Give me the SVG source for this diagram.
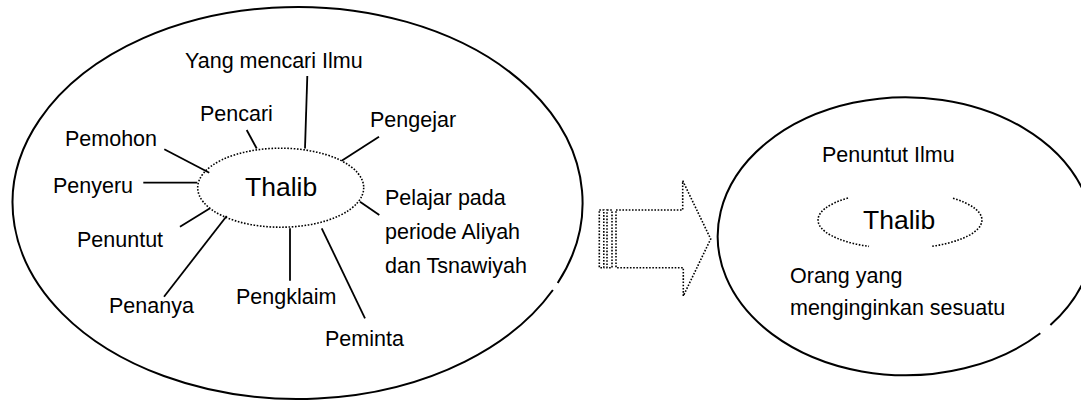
<svg xmlns="http://www.w3.org/2000/svg" width="1081" height="400" viewBox="0 0 1081 400">
<style>
.lbl{font-family:"Liberation Sans",Arial,sans-serif;font-size:21.5px;fill:#000}
.big{font-family:"Liberation Sans",Arial,sans-serif;font-size:26.5px;fill:#000}
.solid{fill:none;stroke:#000;stroke-width:2}
.ln{fill:none;stroke:#000;stroke-width:1.8}
.dot{fill:none;stroke:#000;stroke-width:1.6;stroke-dasharray:1.6 1.6}
</style>
<rect width="1081" height="400" fill="#fff"/>
<g id="outer-left">
<path class="solid" d="M552.9 290 A285 196 0 1 1 557.7 283"/>
</g>
<g id="connectors">
<line class="ln" x1="307.3" y1="76" x2="305" y2="148.5"/>
<line class="ln" x1="246.7" y1="130" x2="256.7" y2="148.5"/>
<line class="ln" x1="164.3" y1="149.3" x2="209.3" y2="172.7"/>
<line class="ln" x1="143.3" y1="182.7" x2="197.3" y2="182.7"/>
<line class="ln" x1="379" y1="136.7" x2="341.7" y2="160.7"/>
<line class="ln" x1="180" y1="226.7" x2="210" y2="208.3"/>
<line class="ln" x1="164" y1="296.7" x2="226.7" y2="216"/>
<line class="ln" x1="290" y1="228.3" x2="290" y2="280.7"/>
<line class="ln" x1="321.7" y1="228.3" x2="365" y2="318.3"/>
<line class="ln" x1="360" y1="201.7" x2="379.3" y2="215"/>
</g>
<g id="thalib-left">
<ellipse class="dot" cx="280.7" cy="187.7" rx="83" ry="39.5"/>
<text class="big" x="245" y="196">Thalib</text>
</g>
<g id="labels-left">
<text class="lbl" x="185" y="68">Yang mencari Ilmu</text>
<text class="lbl" x="200" y="121">Pencari</text>
<text class="lbl" x="65" y="146">Pemohon</text>
<text class="lbl" x="53" y="193">Penyeru</text>
<text class="lbl" x="370" y="127">Pengejar</text>
<text class="lbl" x="77" y="247">Penuntut</text>
<text class="lbl" x="109" y="313">Penanya</text>
<text class="lbl" x="236" y="304">Pengklaim</text>
<text class="lbl" x="325" y="346">Peminta</text>
<text class="lbl" x="385" y="205">Pelajar pada</text>
<text class="lbl" x="385" y="239">periode Aliyah</text>
<text class="lbl" x="385" y="273">dan Tsnawiyah</text>
</g>
<g id="arrow">
<rect class="dot" x="599.3" y="210" width="4.5" height="57.7"/>
<rect class="dot" x="607" y="210" width="5" height="57.7"/>
<path class="dot" d="M616 210 H682.7 V180.7 L710.7 239 L683.3 296 V267.7 H616 Z"/>
</g>
<g id="outer-right">
<path class="solid" d="M1040.3 333.3 A188 139 0 1 1 1050.4 325"/>
</g>
<g id="thalib-right">
<path class="dot" d="M848 198 A82 28.5 0 0 0 869 246.4"/>
<path class="dot" d="M953 198.3 A82 28.5 0 0 1 931 246.4"/>
<text class="big" x="863" y="229">Thalib</text>
</g>
<g id="labels-right">
<text class="lbl" x="822" y="162">Penuntut Ilmu</text>
<text class="lbl" x="790" y="283">Orang yang</text>
<text class="lbl" x="790" y="315">menginginkan sesuatu</text>
</g>
</svg>
